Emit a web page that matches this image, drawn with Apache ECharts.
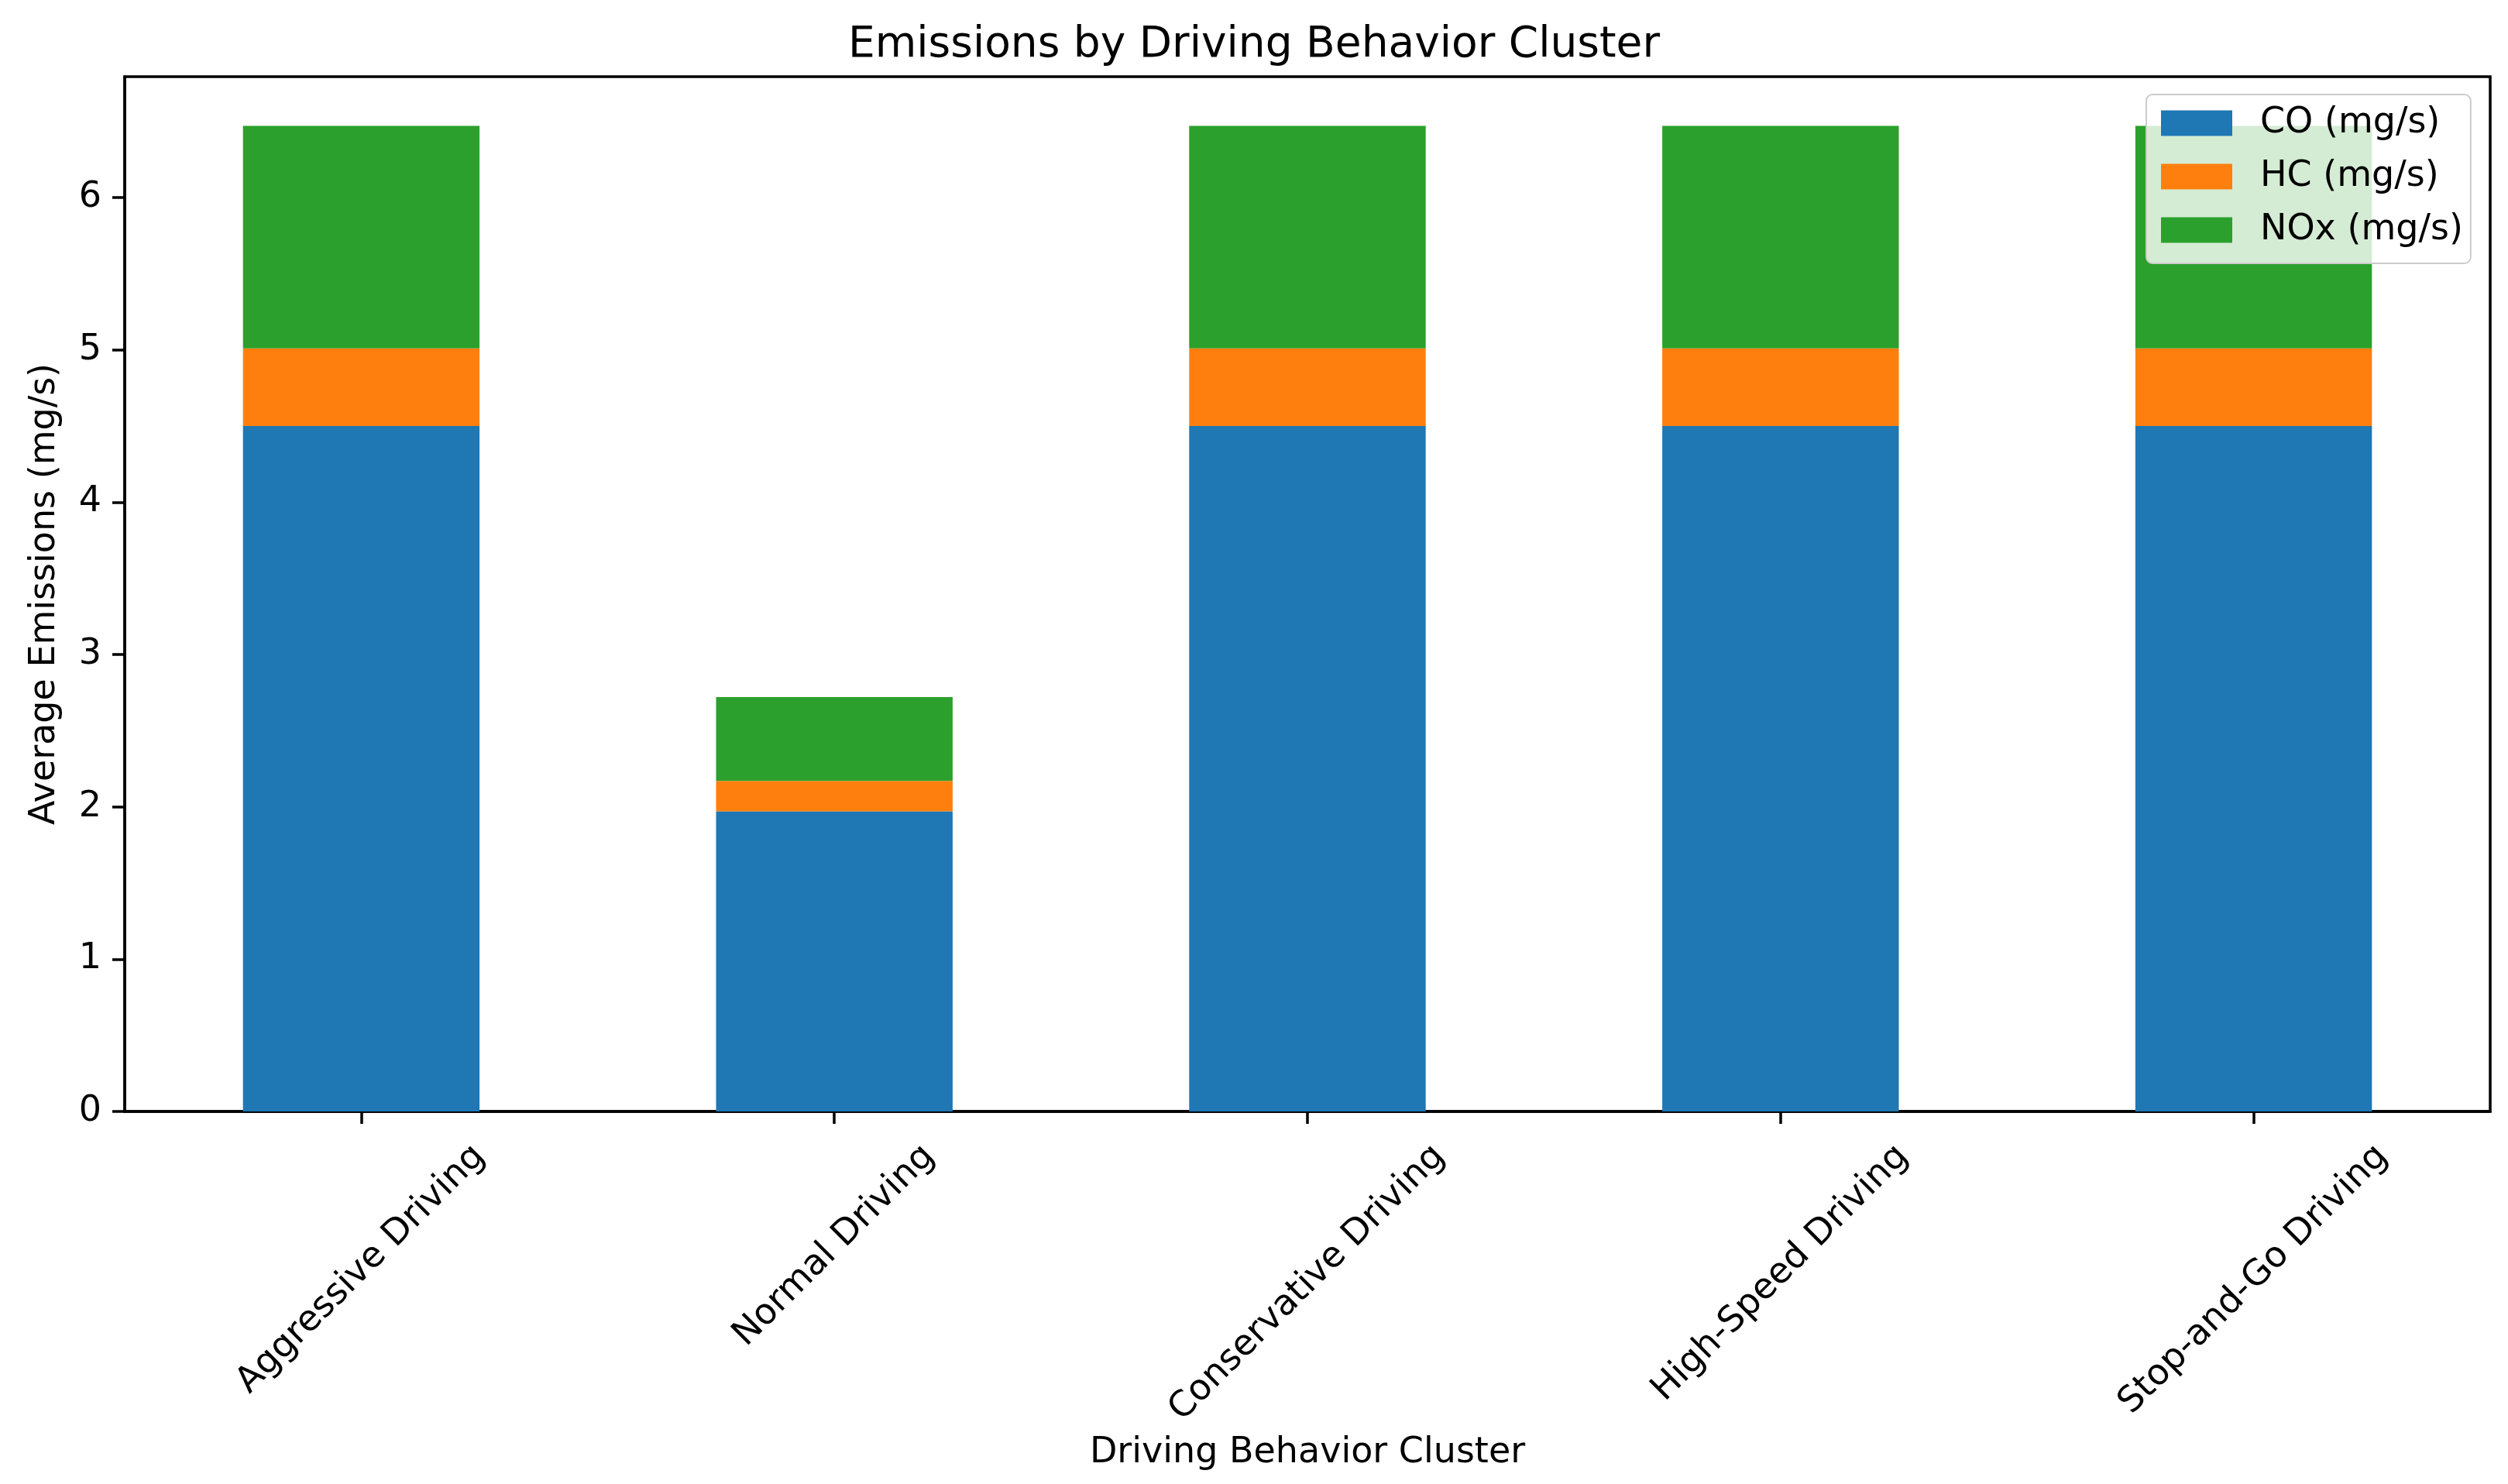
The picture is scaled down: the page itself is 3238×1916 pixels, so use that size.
<!DOCTYPE html>
<html>
<head>
<meta charset="utf-8">
<script src="https://cdn.jsdelivr.net/npm/echarts@6/dist/echarts.min.js"></script>
<style>
html,body{margin:0;padding:0;background:#fff;}
#chart{width:3238px;height:1916px;}
</style>
</head>
<body>
<div id="chart"></div>
<script>
const categories = ['Aggressive Driving', 'Normal Driving', 'Conservative Driving', 'High-Speed Driving', 'Stop-and-Go Driving'];
const coValues = [4.50, 1.97, 4.50, 4.50, 4.50];
const hcValues = [0.51, 0.20, 0.51, 0.51, 0.51];
const noxValues = [1.46, 0.55, 1.46, 1.46, 1.46];
const seriesNames = ['CO (mg/s)', 'HC (mg/s)', 'NOx (mg/s)'];
const yTicks = [0, 1, 2, 3, 4, 5, 6];

const FONT = '"DejaVu Sans", sans-serif';
const LABEL_SIZE = 46;
const LABEL_LH = 54;
const LABEL_TOP = 32; // distance from axis line to top of rotated label box

// measure label widths to emulate matplotlib's centred (ha=center, va=top) rotated labels
const ctx = document.createElement('canvas').getContext('2d');
ctx.font = LABEL_SIZE + 'px "DejaVu Sans"';
const widths = categories.map(c => ctx.measureText(c).width);
const catData = categories.map((c, i) => {
  const b = (widths[i] + LABEL_LH) / 4;
  const pt = Math.max(0, b - LABEL_LH / 2);
  const pr = 2 * b;
  return {
    value: c,
    textStyle: { align: 'center', verticalAlign: 'top', padding: [pt, pr, 0, 0] }
  };
});

const yMax = Math.max(...coValues.map((v, i) => v + hcValues[i] + noxValues[i])) * 1.05;

const chart = echarts.init(document.getElementById('chart'), null, { renderer: 'canvas' });
const colors = ['#1f77b4', '#ff7f0e', '#2ca02c'];
const dataSets = [coValues, hcValues, noxValues];

chart.setOption({
  animation: false,
  backgroundColor: '#ffffff',
  textStyle: { fontFamily: FONT },
  title: {
    text: 'Emissions by Driving Behavior Cluster',
    left: 'center',
    top: 26,
    textStyle: { fontFamily: FONT, fontSize: 55, fontWeight: 'normal', color: '#000' }
  },
  legend: {
    orient: 'vertical',
    left: 2771,
    top: 122,
    padding: [14, 10, 20, 19],
    itemWidth: 92,
    itemHeight: 33,
    itemGap: 23,
    icon: 'rect',
    backgroundColor: 'rgba(255,255,255,0.8)',
    borderColor: '#cccccc',
    borderWidth: 2,
    borderRadius: 8,
    textStyle: { fontFamily: FONT, fontSize: 46, color: '#000', padding: [0, 0, 0, 31] },
    data: seriesNames
  },
  grid: {
    left: 161, right: 23, top: 99, bottom: 481,
    outerBoundsMode: 'none',
    containLabel: false,
    show: true, borderColor: '#000', borderWidth: 3.5, backgroundColor: 'transparent'
  },
  xAxis: {
    type: 'category',
    data: catData,
    boundaryGap: true,
    name: 'Driving Behavior Cluster',
    nameLocation: 'middle',
    nameGap: 415,
    nameTextStyle: { fontFamily: FONT, fontSize: 46, color: '#000' },
    axisLine: { show: true, lineStyle: { color: '#000', width: 3.5 } },
    axisTick: { show: true, alignWithLabel: true, length: 16, lineStyle: { color: '#000', width: 3.5 } },
    axisLabel: {
      interval: 0,
      rotate: 45,
      align: 'center',
      verticalAlign: 'top',
      margin: LABEL_TOP,
      hideOverlap: false,
      fontFamily: FONT,
      fontSize: LABEL_SIZE,
      lineHeight: LABEL_LH,
      color: '#000'
    },
    splitLine: { show: false }
  },
  yAxis: {
    type: 'value',
    min: 0,
    max: yMax,
    interval: 1,
    name: 'Average Emissions (mg/s)',
    nameLocation: 'middle',
    nameGap: 80,
    nameTextStyle: { fontFamily: FONT, fontSize: 46, color: '#000' },
    axisLine: { show: true, lineStyle: { color: '#000', width: 3.5 } },
    axisTick: { show: true, length: 16, lineStyle: { color: '#000', width: 3.5 } },
    axisLabel: {
      showMaxLabel: false,
      margin: 30,
      fontFamily: FONT,
      fontSize: 46,
      color: '#000',
      formatter: v => (yTicks.includes(v) ? String(v) : '')
    },
    splitLine: { show: false }
  },
  series: dataSets.map((d, i) => ({
    name: seriesNames[i],
    type: 'bar',
    stack: 'total',
    barWidth: '50%',
    itemStyle: { color: colors[i] },
    data: d
  }))
});
</script>
</body>
</html>
